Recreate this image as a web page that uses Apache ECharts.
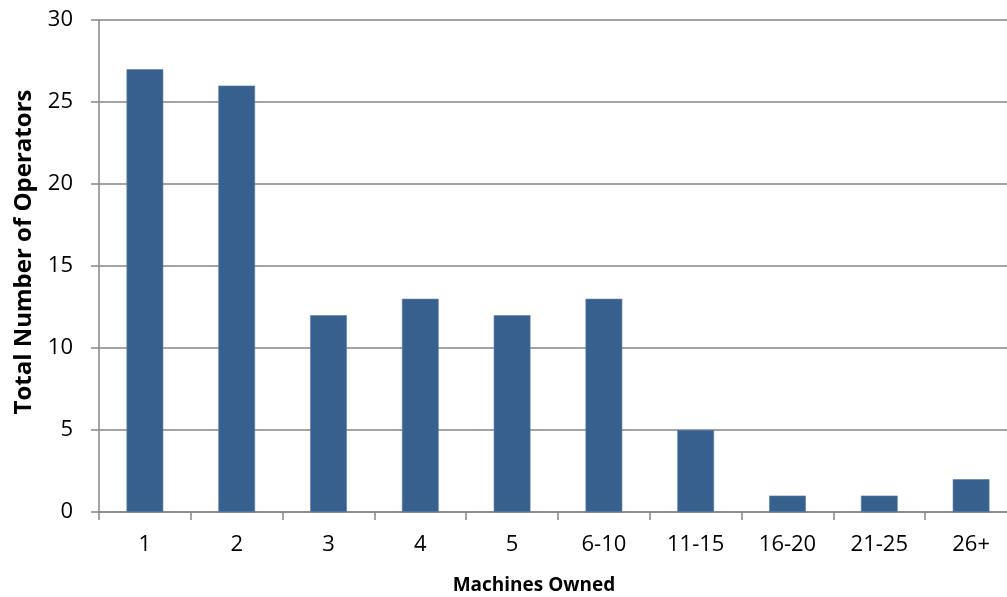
<!DOCTYPE html>
<html>
<head>
<meta charset="utf-8">
<script src="https://cdn.jsdelivr.net/npm/echarts@6/dist/echarts.min.js"></script>
<style>
  html, body { margin: 0; padding: 0; background: #fff; }
  #chart { width: 1007px; height: 597px; }
</style>
</head>
<body>
<div id="chart"></div>
<script>
// Operators grouped by how many machines they own
const categories = ['1', '2', '3', '4', '5', '6-10', '11-15', '16-20', '21-25', '26+'];
const operatorCounts = [27, 26, 12, 13, 12, 13, 5, 1, 1, 2];
const yTicks = [0, 5, 10, 15, 20, 25, 30];

const font = '"Open Sans", "Noto Sans", sans-serif';
const axisGray = '#868686';

const chart = echarts.init(document.getElementById('chart'), null, { renderer: 'canvas' });
chart.setOption({
  animation: false,
  backgroundColor: '#ffffff',
  grid: { left: 99, top: 20, width: 918, height: 492, outerBoundsMode: 'none', containLabel: false },
  xAxis: {
    type: 'category',
    data: categories,
    axisLine: { lineStyle: { color: axisGray, width: 1.5 } },
    axisTick: { show: true, alignWithLabel: false, length: 8, lineStyle: { color: axisGray, width: 1.5 } },
    axisLabel: { color: '#000', fontSize: 22, fontFamily: font, margin: 22 },
    splitLine: { show: false }
  },
  yAxis: {
    type: 'value',
    min: yTicks[0],
    max: yTicks[yTicks.length - 1],
    interval: 5,
    axisLine: { show: true, lineStyle: { color: axisGray, width: 1.5 } },
    axisTick: { show: true, length: 8, lineStyle: { color: axisGray, width: 1.5 } },
    axisLabel: { color: '#000', fontSize: 22, fontFamily: font, margin: 26 },
    splitLine: { show: true, lineStyle: { color: axisGray, width: 1.5 } }
  },
  series: [{
    type: 'bar',
    data: operatorCounts,
    barWidth: '40%',
    itemStyle: { color: '#38608f', borderColor: '#5a7fab', borderWidth: 0.6 }
  }],
  graphic: [
    {
      type: 'text',
      x: 534,
      y: 586,
      style: {
        text: 'Machines Owned',
        font: 'bold 19px ' + font,
        fill: '#000',
        align: 'center',
        verticalAlign: 'middle'
      }
    },
    {
      type: 'text',
      x: 24,
      y: 252,
      rotation: Math.PI / 2,
      style: {
        text: 'Total Number of Operators',
        font: 'bold 24px ' + font,
        fill: '#000',
        align: 'center',
        verticalAlign: 'middle'
      }
    }
  ]
});
</script>
</body>
</html>
